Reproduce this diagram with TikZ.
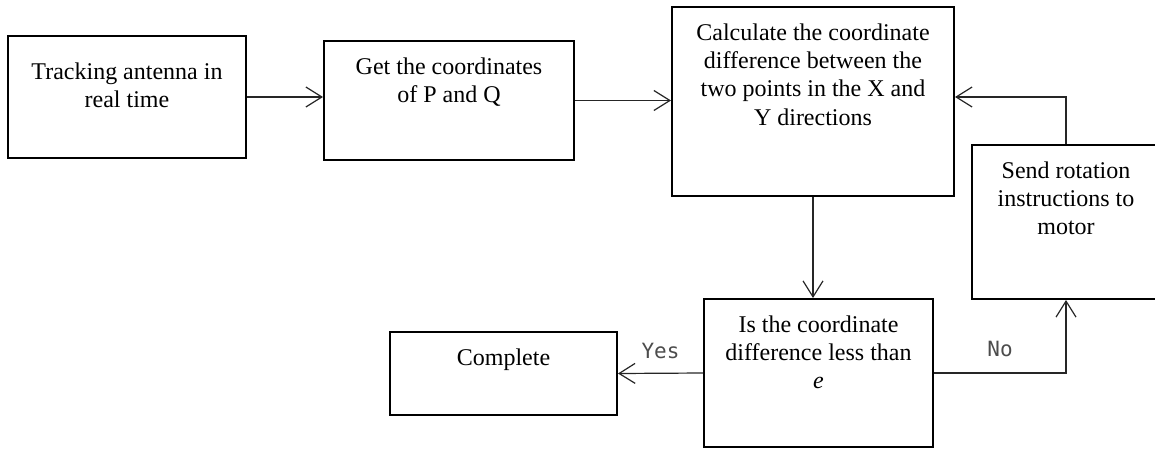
\documentclass[tikz,border=0pt]{standalone}
\usepackage{fontspec}
\setmainfont{Liberation Serif}
\newfontfamily\ynfont{DejaVu Sans Mono}
\usetikzlibrary{arrows.meta}
\tikzset{>={Straight Barb[length=8pt,width=10pt]}}
\tikzset{
  block/.style={draw, line width=1pt, inner sep=0pt},
  blocktext/.style={anchor=north, align=center, inner sep=0pt, yshift=-8.5pt, font=\fontsize{12}{14.2}\selectfont},
  flow/.style={->, line width=0.6pt, black!85},
  yn/.style={font={\ynfont\fontsize{10.5}{12}\selectfont}, text=black!70}
}

\begin{document}
\begin{tikzpicture}[x=0.5pt, y=-0.5pt]
\useasboundingbox (0,0) rectangle (1155,449);
\node[block, minimum width=119pt, minimum height=61pt,
  label={[blocktext, yshift=-5pt]90:{Tracking antenna in\\real time}}] (track) at (127,97) {};
\node[block, minimum width=125pt, minimum height=59.5pt,
  label={[blocktext]90:{Get the coordinates\\of P and Q}}] (getpq) at (449,100.5) {};
\node[block, minimum width=141pt, minimum height=94.5pt,
  label={[blocktext]90:{Calculate the coordinate\\difference between the\\two points in the X and\\Y directions}}] (calc) at (813,101.5) {};
\node[block, minimum width=94pt, minimum height=77pt,
  label={[blocktext]90:{Send rotation\\instructions to\\motor}}] (send) at (1066,222) {};
\node[block, minimum width=114.5pt, minimum height=74pt,
  label={[blocktext]90:{Is the coordinate\\difference less than\\\textit{e}}}] (check) at (818.5,373) {};
\node[block, minimum width=113.5pt, minimum height=41.5pt,
  label={[blocktext]90:{Complete}}] (done) at (503.5,373.5) {};
% connectors
\draw[flow] (track.east) -- (track.east -| getpq.west);
\draw[flow] (getpq.east) -- (getpq.east -| calc.west);
\draw[flow] (calc.south) -- (calc.south |- check.north);
\draw[flow] (check.west) -- node[yn, above=3.5pt] {Yes} (done.east);
\draw[flow] (check.east) -| node[yn, pos=0.25, above=4.5pt] {No} (send.south);
\draw[flow] (send.north) |- ([yshift=2.25pt]calc.east);
\end{tikzpicture}
\end{document}
